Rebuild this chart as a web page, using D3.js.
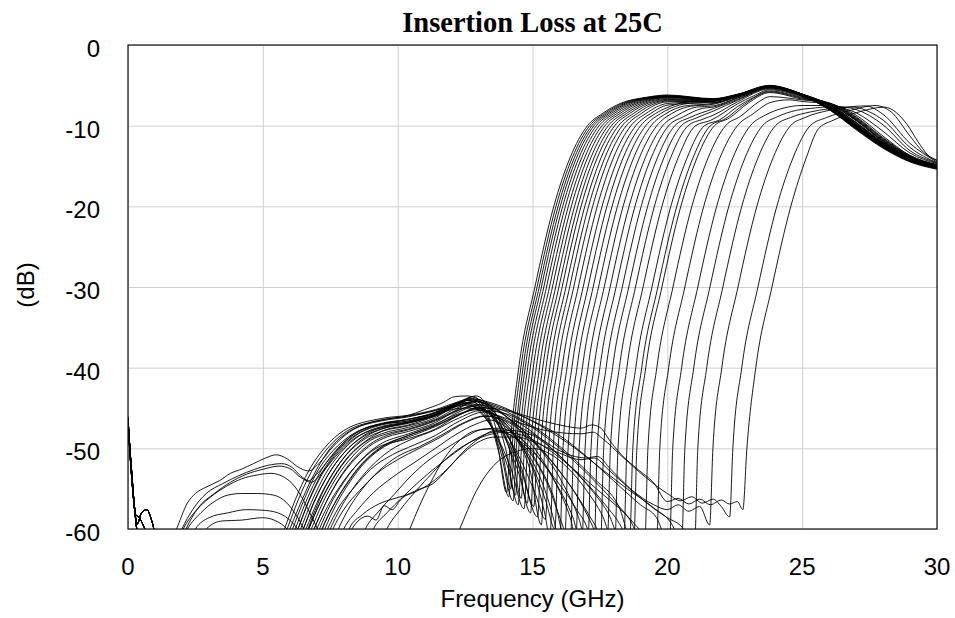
<!DOCTYPE html>
<html lang="en">
<head>
  <meta charset="UTF-8">
  <title>Insertion Loss at 25C</title>
  <script src="https://cdn.jsdelivr.net/npm/d3@7"></script>
  <style>
    body { margin: 0; background: #fff; }
    svg { display: block; }
    .tick-label { font-family: "Liberation Sans", Arial, sans-serif; font-size: 24px; fill: #000; }
    .title { font-family: "Liberation Serif", "Times New Roman", serif; font-size: 28.5px; font-weight: bold; fill: #000; }
  </style>
</head>
<body>
  <svg id="chart" width="955" height="618"></svg>
  <script>
    // axis ticks
    const freqTicks = [0, 5, 10, 15, 20, 25, 30];
    const dbTicks = [0, -10, -20, -30, -40, -50, -60];

    // sweeps, [GHz, dB]; values under -60 are clipped away
    const lowEdgeSweeps = [
      [[0,-46.6],[0.12,-52.5],[0.25,-57.5],[0.38,-61],[6.05,-62],[6.3,-60],[6.7,-56.5],[7.2,-53],[7.8,-50.2],[8.5,-48.2],[9.4,-47.0],[10.4,-46.4],[11.4,-45.6],[12.2,-44.4],[12.8,-43.6],[13.3,-45.5],[13.7,-49.5],[14.04,-55.5],
       [14.16,-50],[14.49,-40],[15.09,-30],[15.79,-20],[16.39,-14],[17.04,-10],[17.59,-8.5],[18.29,-7.2],[19.19,-6.5],[20,-6.2],[21.7,-6.65],[22.6,-6.1],[23.8,-5.0],[25,-6.2],[26,-7.9],[27,-10.4],[28,-12.7],[29,-14.4],[30,-15.3]],
      [[0,-46.2],[0.1,-51.5],[0.22,-56.8],[0.34,-59.4],[0.5,-58.0],[0.7,-57.6],[0.9,-59.2],[1.05,-61],[5.75,-62],[6.0,-60],[6.4,-56.8],[6.9,-53.2],[7.5,-50.0],[8.2,-47.9],[9.4,-46.6],[10.4,-46.1],[11.4,-45.3],[12.2,-44.5],[12.7,-43.8],[13.3,-45.8],[13.75,-50.5],[14.12,-56],
       [14.24,-50],[14.57,-40],[15.17,-30],[15.87,-20],[16.47,-14],[17.12,-10],[17.67,-8.5],[18.37,-7.2],[19.27,-6.5],[20,-6.25],[21.7,-6.7],[22.6,-6.15],[23.8,-5.05],[25,-6.1],[26,-7.8],[27,-10.3],[28,-12.6],[29,-14.3],[30,-15.2]],
      [[0,-47.0],[0.15,-54.2],[0.3,-59.3],[0.42,-62],[6.25,-62],[6.5,-60],[6.9,-56.6],[7.4,-53.4],[8.0,-50.6],[8.7,-48.6],[9.4,-47.6],[10.4,-46.9],[11.4,-45.9],[12.2,-44.6],[12.9,-43.5],[13.4,-45.2],[13.85,-50.0],[14.2,-55],
       [14.32,-50],[14.65,-40],[15.25,-30],[15.95,-20],[16.55,-14],[17.2,-10],[17.75,-8.5],[18.45,-7.2],[19.35,-6.5],[20,-6.3],[21.7,-6.7],[22.6,-6.15],[23.8,-5.05],[25,-6.3],[26,-8.0],[27,-10.5],[28,-12.8],[29,-14.5],[30,-15.4]],
      [[0,-46.8],[0.14,-53],[0.28,-58.2],[0.42,-58.6],[0.6,-59.8],[0.75,-61],[5.55,-62],[5.8,-60],[6.2,-56.4],[6.7,-52.8],[7.3,-49.9],[8.0,-47.8],[9.4,-46.3],[10.4,-45.9],[11.4,-45.2],[12.2,-44.3],[12.6,-44.0],[13.2,-45.6],[13.8,-50.2],[14.28,-56.5],
       [14.4,-50],[14.73,-40],[15.33,-30],[16.03,-20],[16.63,-14],[17.28,-10],[17.83,-8.5],[18.53,-7.2],[19.43,-6.5],[20,-6.33],[21.7,-6.72],[22.6,-6.15],[23.8,-5.1],[25,-6.2],[26,-7.9],[27,-10.3],[28,-12.6],[29,-14.4],[30,-15.2]],
      [[0,-46.6],[0.12,-52.5],[0.25,-57.5],[0.38,-61],[6.45,-62],[6.7,-60],[7.1,-56.9],[7.6,-53.8],[8.2,-51.0],[8.9,-49.0],[9.4,-48.2],[10.4,-47.4],[11.4,-46.4],[12.2,-45.0],[13.0,-44.2],[13.5,-45.4],[14.0,-50.0],[14.37,-55.8],
       [14.49,-50],[14.82,-40],[15.42,-30],[16.12,-20],[16.72,-14],[17.37,-10],[17.92,-8.5],[18.62,-7.2],[19.52,-6.5],[20,-6.37],[21.7,-6.73],[22.6,-6.15],[23.8,-5.1],[25,-6.1],[26,-7.8],[27,-10.2],[28,-12.5],[29,-14.3],[30,-15.1]],
      [[0,-46.2],[0.1,-51.5],[0.22,-56.8],[0.34,-59.4],[0.5,-58.0],[0.7,-57.6],[0.9,-59.2],[1.05,-61],[5.85,-62],[6.1,-60],[6.5,-56.6],[7.0,-53.0],[7.6,-50.3],[8.3,-48.3],[9.4,-47.0],[10.4,-46.6],[11.4,-45.8],[12.0,-45.0],[12.5,-44.5],[13.1,-45.7],[13.7,-48.8],[14.1,-52.5],[14.47,-57],
       [14.59,-50],[14.92,-40],[15.52,-30],[16.22,-20],[16.82,-14],[17.47,-10],[18.02,-8.5],[18.72,-7.2],[19.62,-6.5],[20,-6.4],[21.7,-6.75],[22.6,-6.15],[23.8,-5.1],[25,-6.3],[26,-8.0],[27,-10.4],[28,-12.7],[29,-14.4],[30,-15.3]],
      [[0,-47.0],[0.15,-54.2],[0.3,-59.3],[0.42,-62],[6.65,-62],[6.9,-60],[7.3,-57.0],[7.8,-54.0],[8.4,-51.4],[9.1,-49.4],[9.6,-48.6],[10.4,-47.9],[11.4,-46.8],[12.2,-45.2],[13.0,-44.0],[13.5,-45.0],[14.0,-48.6],[14.3,-52.0],[14.58,-56.2],
       [14.7,-50],[15.03,-40],[15.63,-30],[16.33,-20],[16.93,-14],[17.58,-10],[18.13,-8.5],[18.83,-7.2],[19.73,-6.5],[20,-6.45],[21.7,-6.76],[22.6,-6.16],[23.8,-5.12],[25,-6.2],[26,-7.8],[27,-10.2],[28,-12.5],[29,-14.2],[30,-15.2]],
      [[0,-46.8],[0.14,-53],[0.28,-58.2],[0.42,-58.6],[0.6,-59.8],[0.75,-61],[5.65,-62],[5.9,-60],[6.3,-56.5],[6.8,-52.9],[7.4,-50.0],[8.1,-47.9],[9.4,-46.5],[10.4,-46.0],[11.4,-45.3],[11.9,-44.8],[12.4,-44.3],[13.0,-45.2],[13.6,-48.0],[14.2,-52.5],[14.69,-57.5],
       [14.81,-50],[15.14,-40],[15.74,-30],[16.44,-20],[17.04,-14],[17.69,-10],[18.24,-8.5],[18.94,-7.2],[20,-6.5],[21.7,-6.78],[22.6,-6.17],[23.8,-5.13],[25,-6.1],[26,-7.7],[27,-10.1],[28,-12.5],[29,-14.3],[30,-15.2]],
      [[0,-46.6],[0.12,-52.5],[0.25,-57.5],[0.38,-61],[6.95,-62],[7.2,-60],[7.6,-57.2],[8.1,-54.4],[8.7,-51.8],[9.4,-49.8],[10.4,-48.4],[11.4,-47.1],[12.2,-45.6],[13.1,-44.6],[13.6,-45.6],[14.1,-48.4],[14.5,-52.4],[14.81,-56.8],
       [14.93,-50],[15.26,-40],[15.86,-30],[16.56,-20],[17.16,-14],[17.81,-10],[18.36,-8.5],[19.06,-7.2],[20,-6.55],[21.7,-6.8],[22.6,-6.2],[23.8,-5.15],[25,-6.3],[26,-7.9],[27,-10.3],[28,-12.6],[29,-14.4],[30,-15.3]],
      [[0,-46.2],[0.1,-51.5],[0.22,-56.8],[0.34,-59.4],[0.5,-58.0],[0.7,-57.6],[0.9,-59.2],[1.05,-61],[6.15,-62],[6.4,-60],[6.8,-56.7],[7.3,-53.3],[7.9,-50.5],[8.6,-48.4],[9.4,-47.3],[10.4,-46.7],[11.4,-45.7],[12.2,-44.4],[12.7,-43.8],[13.3,-45.0],[13.9,-48.2],[14.5,-53.2],[14.93,-58],
       [15.05,-50],[15.38,-40],[15.98,-30],[16.68,-20],[17.28,-14],[17.93,-10],[18.48,-8.5],[19.18,-7.2],[20,-6.65],[21.7,-6.85],[22.6,-6.2],[23.8,-5.16],[25,-6.2],[26,-7.8],[27,-10.2],[28,-12.6],[29,-14.3],[30,-15.2]],
      [[0,-47.0],[0.15,-54.2],[0.3,-59.3],[0.42,-62],[6.75,-62],[7.0,-60],[7.4,-57.2],[7.9,-54.5],[8.5,-52.0],[9.2,-50.0],[10.4,-48.8],[11.4,-47.6],[12.2,-46.0],[12.9,-45.0],[13.5,-45.9],[14.1,-48.6],[14.6,-52.5],[15.05,-57.2],
       [15.17,-50],[15.5,-40],[16.1,-30],[16.8,-20],[17.4,-14],[18.05,-10],[18.6,-8.5],[19.3,-7.2],[20,-6.75],[21.7,-6.85],[22.6,-6.2],[23.8,-5.15],[25,-6.1],[26,-7.7],[27,-10.1],[28,-12.4],[29,-14.2],[30,-15.1]],
      [[0,-46.8],[0.14,-53],[0.28,-58.2],[0.42,-58.6],[0.6,-59.8],[0.75,-61],[6.35,-62],[6.6,-60],[7.0,-56.8],[7.5,-53.6],[8.1,-50.8],[8.8,-48.8],[9.4,-47.9],[10.4,-47.2],[11.4,-46.2],[12.0,-45.0],[12.6,-44.4],[13.2,-45.2],[13.9,-48.0],[14.6,-53.0],[15.19,-58.5],
       [15.31,-50],[15.64,-40],[16.24,-30],[16.94,-20],[17.54,-14],[18.19,-10],[18.74,-8.5],[19.44,-7.2],[20,-6.85],[21.7,-6.9],[22.6,-6.2],[23.8,-5.2],[25,-6.3],[26,-7.9],[27,-10.3],[28,-12.6],[29,-14.3],[30,-15.2]]
    ];

    const midEdgeSweeps = [
      [[0,-46.6],[0.12,-52.5],[0.25,-57.5],[0.38,-61],[7.15,-62],[7.4,-60],[7.8,-57.4],[8.4,-54.8],[9.0,-52.6],[9.8,-50.8],[10.6,-49.6],[11.4,-48.4],[12.3,-46.6],[13.2,-45.5],[13.8,-46.3],[14.4,-48.8],[14.9,-52.6],[15.33,-59.5],
       [15.45,-50],[15.78,-40],[16.38,-30],[17.08,-20],[17.68,-14],[18.33,-10],[18.88,-8.5],[19.58,-7.2],[20,-6.95],[21.7,-6.95],[22.6,-6.22],[23.8,-5.2],[25,-6.2],[26,-7.7],[27,-10.1],[28,-12.4],[29,-14.2],[30,-15.1]],
      [[0,-46.2],[0.1,-51.5],[0.22,-56.8],[0.34,-59.4],[0.5,-58.0],[0.7,-57.6],[0.9,-59.2],[1.05,-61],[5.95,-62],[6.2,-60],[6.6,-56.6],[7.1,-53.1],[7.7,-50.3],[8.4,-48.2],[9.4,-46.9],[10.4,-46.4],[11.4,-45.5],[12.0,-44.6],[12.5,-44.0],[13.1,-44.8],[13.8,-47.2],[14.5,-51.0],[15.1,-55.6],[15.48,-58.8],
       [15.6,-50],[15.93,-40],[16.53,-30],[17.23,-20],[17.83,-14],[18.48,-10],[19.03,-8.5],[19.73,-7.2],[20,-7.05],[21.7,-6.95],[22.6,-6.25],[23.8,-5.2],[25,-6.1],[26,-7.6],[27,-10.0],[28,-12.4],[29,-14.2],[30,-15.1]],
      [[0,-47.0],[0.15,-54.2],[0.3,-59.3],[0.42,-62],[7.35,-62],[7.6,-60],[8.0,-57.6],[8.6,-55.2],[9.2,-53.2],[10.0,-51.4],[10.8,-50.0],[11.6,-48.6],[12.4,-47.0],[13.3,-46.0],[14.0,-47.0],[14.6,-49.6],[15.1,-53.5],[15.45,-58],[15.65,-61],
       [15.77,-50],[16.1,-40],[16.7,-30],[17.4,-20],[18.0,-14],[18.65,-10],[19.2,-8.5],[20,-7.25],[21.7,-6.95],[22.6,-6.25],[23.8,-5.25],[25,-6.2],[26,-7.7],[27,-10.0],[28,-12.3],[29,-14.1],[30,-15.1]],
      [[0,-46.8],[0.14,-53],[0.28,-58.2],[0.42,-58.6],[0.6,-59.8],[0.75,-61],[6.55,-62],[6.8,-60],[7.2,-56.9],[7.7,-53.8],[8.3,-51.1],[9.0,-49.0],[9.6,-48.2],[10.4,-47.6],[11.4,-46.5],[12.2,-45.3],[12.8,-44.8],[13.5,-45.8],[14.3,-48.4],[15.0,-52.2],[15.5,-56.6],[15.83,-60],
       [15.95,-50],[16.28,-40],[16.88,-30],[17.58,-20],[18.18,-14],[18.83,-10],[19.38,-8.5],[20,-7.45],[21.7,-7.0],[22.6,-6.3],[23.8,-5.25],[25,-6.1],[26,-7.5],[27,-9.9],[28,-12.3],[29,-14.1],[30,-15.0]],
      [[0,-46.6],[0.12,-52.5],[0.25,-57.5],[0.38,-61],[7.75,-62],[8.0,-60],[8.5,-57.7],[9.1,-55.5],[9.8,-53.6],[10.6,-51.8],[11.4,-50.0],[12.2,-48.2],[12.9,-47.0],[13.4,-46.5],[14.1,-47.6],[14.8,-50.5],[15.4,-54.6],[15.8,-59],[16.01,-62],
       [16.13,-50],[16.46,-40],[17.06,-30],[17.76,-20],[18.36,-14],[19.01,-10],[19.56,-8.5],[20,-7.75],[21,-7.0],[21.7,-7.1],[22.6,-6.3],[23.8,-5.15],[25,-6.2],[26,-7.6],[27,-10.0],[28,-12.4],[29,-14.2],[30,-15.1]],
      [[0,-46.2],[0.1,-51.5],[0.22,-56.8],[0.34,-59.4],[0.5,-58.0],[0.7,-57.6],[0.9,-59.2],[1.05,-61],[6.85,-62],[7.1,-60],[7.5,-57.0],[8.0,-54.2],[8.6,-51.6],[9.3,-49.6],[10.4,-48.2],[11.4,-47.0],[12.2,-45.8],[13.0,-45.2],[13.7,-46.0],[14.5,-48.4],[15.2,-51.9],[15.8,-56.2],[16.2,-61],
       [16.32,-50],[16.65,-40],[17.25,-30],[17.95,-20],[18.55,-14],[19.2,-10],[19.75,-8.5],[20.45,-7.45],[21,-7.2],[21.7,-7.15],[22.6,-6.35],[23.8,-5.15],[25,-6.1],[26,-7.5],[27,-9.8],[28,-12.2],[29,-14.1],[30,-15.0]],
      [[0,-47.0],[0.15,-54.2],[0.3,-59.3],[0.42,-62],[8.05,-62],[8.3,-60],[8.9,-58.4],[9.2,-58.9],[9.5,-57.1],[9.8,-57.6],[10.1,-56.4],[10.7,-55.2],[11.3,-54.4],[11.9,-52.4],[12.5,-50.2],[13.1,-48.6],[13.6,-47.8],[14.3,-48.6],[15.0,-51.0],[15.6,-54.8],[16.1,-59.4],[16.4,-62],
       [16.52,-50],[16.85,-40],[17.45,-30],[18.15,-20],[18.75,-14],[19.4,-10],[19.95,-8.5],[20.65,-7.55],[21.7,-7.25],[22.6,-6.4],[23.8,-5.2],[25,-6.2],[26,-7.6],[27,-9.9],[28,-12.3],[29,-14.2],[30,-15.1]],
      [[0,-46.8],[0.14,-53],[0.28,-58.2],[0.42,-58.6],[0.6,-59.8],[0.75,-61],[6.25,-62],[6.5,-60],[6.9,-56.7],[7.4,-53.4],[8.0,-50.6],[8.7,-48.5],[9.4,-47.4],[10.4,-46.8],[11.4,-45.8],[12.2,-44.6],[12.9,-44.2],[13.6,-45.0],[14.4,-47.3],[15.2,-50.6],[15.9,-54.6],[16.4,-58.6],[16.61,-61],
       [16.73,-50],[17.06,-40],[17.66,-30],[18.36,-20],[18.96,-14],[19.61,-10],[20.16,-8.5],[20.86,-7.6],[21.7,-7.35],[22.6,-6.45],[23.8,-5.2],[25,-6.1],[26,-7.4],[27,-9.7],[28,-12.2],[29,-14.0],[30,-15.0]],
      [[0,-46.6],[0.12,-52.5],[0.25,-57.5],[0.38,-61],[8.55,-62],[8.8,-60],[9.3,-57.8],[9.9,-55.6],[10.5,-53.4],[11.1,-51.6],[11.8,-50.0],[12.5,-48.6],[13.2,-47.6],[13.8,-47.5],[14.5,-48.6],[15.2,-51.0],[15.9,-54.5],[16.5,-58.6],[16.83,-62],
       [16.95,-50],[17.28,-40],[17.88,-30],[18.58,-20],[19.18,-14],[19.83,-10],[20.38,-8.7],[21.08,-7.7],[21.7,-7.55],[22.6,-6.55],[23.8,-5.25],[25,-6.2],[26,-7.5],[27,-9.8],[28,-12.2],[29,-14.1],[30,-15.0]],
      [[0,-46.2],[0.1,-51.5],[0.22,-56.8],[0.34,-59.4],[0.5,-58.0],[0.7,-57.6],[0.9,-59.2],[1.05,-61],[7.05,-62],[7.3,-60],[7.7,-57.1],[8.2,-54.3],[8.8,-51.7],[9.5,-49.8],[10.4,-48.6],[11.4,-47.3],[12.2,-46.0],[13.1,-44.9],[13.8,-45.6],[14.6,-47.6],[15.4,-50.6],[16.1,-54.2],[16.7,-58.5],[17.05,-62],
       [17.17,-50],[17.5,-40],[18.1,-30],[18.8,-20],[19.4,-14],[20.05,-10],[20.6,-8.9],[21.3,-7.85],[21.7,-7.7],[22.6,-6.6],[23.8,-5.3],[25,-6.1],[26,-7.4],[27,-9.6],[28,-12.1],[29,-14.0],[30,-15.0]],
      [[0,-47.0],[0.15,-54.2],[0.3,-59.3],[0.42,-62],[10.2,-62],[10.45,-60],[10.8,-57.2],[11.2,-54.4],[11.7,-51.4],[12.3,-49.0],[12.9,-47.8],[13.5,-47.6],[14.2,-48.4],[15.0,-50.4],[15.8,-53.6],[16.6,-57.4],[17.1,-60.6],[17.28,-63],
       [17.4,-50],[17.73,-40],[18.33,-30],[19.03,-20],[19.63,-14],[20.28,-10],[20.83,-9.0],[21.7,-7.9],[22.6,-6.75],[23.8,-5.3],[25,-6.2],[26,-7.4],[27,-9.6],[28,-12.1],[29,-14.0],[30,-15.0]],
      [[0,-46.8],[0.14,-53],[0.28,-58.2],[0.42,-58.6],[0.6,-59.8],[0.75,-61],[6.45,-62],[6.7,-60],[7.1,-56.9],[7.6,-53.7],[8.2,-50.9],[8.9,-48.9],[9.4,-47.9],[10.4,-47.1],[11.4,-46.0],[12.2,-44.8],[12.8,-44.2],[13.5,-44.9],[14.3,-46.8],[15.2,-49.6],[16.0,-52.8],[16.8,-56.8],[17.3,-60.2],[17.52,-62],
       [17.64,-50],[17.97,-40],[18.57,-30],[19.27,-20],[19.87,-14],[20.52,-10],[21.07,-9.05],[21.7,-8.2],[22.6,-6.85],[23.8,-5.35],[25,-6.3],[26,-7.3],[27,-9.4],[28,-12.0],[29,-14.0],[30,-15.0]],
      [[0,-46.6],[0.12,-52.5],[0.25,-57.5],[0.38,-61],[7.55,-62],[7.8,-60],[8.2,-57.4],[8.7,-55.0],[9.3,-52.8],[10.0,-51.0],[10.8,-49.8],[11.6,-48.4],[12.4,-46.9],[13.2,-46.0],[14.0,-46.6],[14.9,-48.8],[15.8,-52.0],[16.6,-55.6],[17.3,-59.4],[17.77,-62],
       [17.89,-50],[18.22,-40],[18.82,-30],[19.52,-20],[20.12,-14],[20.77,-10],[21.32,-9.2],[21.7,-8.7],[22.6,-7.05],[23.8,-5.45],[25,-6.3],[26,-7.3],[27,-9.3],[28,-11.9],[29,-13.9],[30,-15.0]]
    ];

    const highEdgeSweeps = [
      [[0,-46.2],[0.1,-51.5],[0.22,-56.8],[0.34,-59.4],[0.5,-58.0],[0.7,-57.6],[0.9,-59.2],[1.05,-61],[12.05,-62],[12.3,-60],[12.6,-57.6],[12.9,-55.4],[13.3,-53.2],[13.8,-51.4],[14.4,-50.4],[15.0,-50.0],[15.6,-50.6],[16.3,-52.4],[17.0,-55.2],[17.6,-58.4],[18.05,-62],
       [18.17,-50],[18.5,-40],[19.1,-30],[19.8,-20],[20.4,-14],[21.05,-10],[21.6,-9.35],[22.6,-7.3],[23.2,-6.3],[23.8,-5.55],[25,-6.4],[26,-7.3],[27,-9.3],[28,-11.9],[29,-13.9],[30,-15.0]],
      [[0,-47.0],[0.15,-54.2],[0.3,-59.3],[0.42,-62],[6.65,-62],[6.9,-60],[7.3,-57.0],[7.8,-53.9],[8.4,-51.2],[9.1,-49.2],[9.6,-48.4],[10.4,-47.7],[11.4,-46.6],[12.2,-45.4],[12.9,-44.6],[13.6,-45.1],[14.4,-46.6],[15.3,-48.8],[16.2,-51.6],[17.1,-54.8],[17.8,-58.0],[18.38,-62],
       [18.5,-50],[18.83,-40],[19.43,-30],[20.13,-20],[20.73,-14],[21.38,-10],[21.93,-9.3],[22.6,-7.65],[23.2,-6.5],[23.8,-5.7],[25,-6.5],[26,-7.2],[27,-9.2],[28,-11.8],[29,-13.9],[30,-15.0]],
      [[0,-46.8],[0.14,-53],[0.28,-58.2],[0.42,-58.6],[0.6,-59.8],[0.75,-61],[8.85,-62],[9.1,-60],[9.6,-58.0],[10.2,-56.0],[10.8,-54.1],[11.4,-52.4],[12.1,-50.6],[12.8,-49.0],[13.5,-48.0],[14.2,-47.8],[15.0,-48.4],[15.9,-50.6],[16.8,-53.6],[17.7,-57.0],[18.3,-59.8],[18.6,-62],
       [18.72,-50],[19.05,-40],[19.65,-30],[20.35,-20],[20.95,-14],[21.6,-10],[22.15,-9.15],[22.85,-7.35],[23.8,-5.8],[25,-6.6],[26,-7.2],[27,-9.1],[28,-11.7],[29,-13.8],[30,-14.9]],
      [[0,-46.6],[0.12,-52.5],[0.25,-57.5],[0.38,-61],[6.05,-62],[6.3,-60],[6.7,-56.6],[7.2,-53.2],[7.8,-50.4],[8.5,-48.3],[9.4,-47.1],[10.4,-46.6],[11.4,-45.6],[12.2,-44.5],[12.7,-44.0],[13.4,-44.6],[14.3,-45.9],[15.3,-47.9],[16.3,-50.6],[17.3,-53.8],[18.2,-57.2],[18.75,-62],
       [18.87,-50],[19.2,-40],[19.8,-30],[20.5,-20],[21.1,-14],[21.75,-10],[22.3,-9.05],[23.0,-7.2],[23.8,-5.9],[25,-6.7],[26,-7.2],[27,-9.0],[28,-11.6],[29,-13.8],[30,-14.9]],
      [[0,-46.2],[0.1,-51.5],[0.22,-56.8],[0.34,-59.4],[0.5,-58.0],[0.7,-57.6],[0.9,-59.2],[1.05,-61],[7.25,-62],[7.5,-60],[7.9,-57.3],[8.4,-54.7],[9.0,-52.3],[9.7,-50.3],[10.5,-48.9],[11.4,-47.7],[12.3,-46.2],[13.1,-45.3],[13.9,-45.6],[14.8,-47.0],[15.8,-49.4],[16.8,-52.4],[17.8,-55.8],[18.6,-58.8],[19.16,-62],
       [19.28,-50],[19.61,-40],[20.21,-30],[20.91,-20],[21.51,-14],[22.16,-10],[22.71,-8.85],[23.41,-7.0],[23.8,-6.4],[25,-6.8],[26,-7.2],[27,-8.9],[28,-11.5],[29,-13.7],[30,-14.9]],
      [[0,-47.0],[0.15,-54.2],[0.3,-59.3],[0.42,-62],[2.6,-62],[2.9,-60],[3.5,-59.0],[4.2,-58.9],[5.0,-58.6],[5.6,-59.2],[6.0,-60.4],[6.3,-62],[9.35,-62],[9.6,-60],[10.1,-57.6],[10.7,-55.2],[11.3,-53.0],[11.9,-51.0],[12.6,-49.4],[13.3,-48.4],[14.0,-48.0],[14.8,-48.6],[15.7,-50.4],[16.6,-52.8],[17.5,-55.4],[18.4,-58.0],[19.1,-60.5],[19.6,-62],
       [19.72,-50],[20.05,-40],[20.65,-30],[21.35,-20],[21.95,-14],[22.6,-10],[23.15,-8.6],[23.85,-7.1],[24.5,-6.8],[25,-7.0],[26,-7.3],[27,-8.7],[28,-11.3],[29,-13.7],[30,-14.8]],
      [[0,-46.8],[0.14,-53],[0.28,-58.2],[0.42,-58.6],[0.6,-59.8],[0.75,-61],[2.2,-62],[2.5,-60],[3.0,-58.6],[3.7,-58.0],[4.4,-57.6],[5.1,-57.7],[5.7,-58.2],[6.2,-59.6],[6.5,-61],[6.8,-62],[7.0,-62],[7.2,-60],[7.6,-57.2],[8.1,-54.5],[8.7,-51.9],[9.4,-49.9],[10.4,-48.4],[11.4,-47.2],[12.3,-45.8],[13.1,-45.0],[14.0,-45.3],[15.0,-46.6],[16.0,-48.4],[17.0,-51.0],[18.0,-54.0],[19.0,-57.0],[19.6,-58.6],[20.08,-62],
       [20.2,-50],[20.53,-40],[21.13,-30],[21.83,-20],[22.43,-14],[23.08,-10],[23.63,-8.7],[24.33,-7.8],[25,-7.5],[26,-7.5],[26.5,-7.8],[27,-8.4],[28,-10.7],[29,-13.4],[30,-14.7]],
      [[0,-46.6],[0.12,-52.5],[0.25,-57.5],[0.38,-61],[1.9,-62],[2.2,-60],[2.7,-58.0],[3.2,-56.6],[3.7,-55.8],[4.2,-55.6],[4.8,-55.6],[5.4,-55.8],[5.9,-56.8],[6.3,-58.6],[6.6,-60.2],[6.85,-58.4],[7.2,-55.6],[7.7,-52.6],[8.3,-50.0],[9.0,-48.2],[9.6,-47.4],[10.4,-46.8],[11.4,-45.9],[12.2,-44.6],[12.8,-43.9],[13.5,-44.4],[14.5,-45.8],[15.5,-47.6],[16.5,-49.8],[17.5,-52.4],[18.5,-55.0],[19.5,-57.4],[20.2,-59.6],[20.53,-62],
       [20.65,-50],[20.98,-40],[21.58,-30],[22.28,-20],[22.88,-14],[23.53,-10],[24.08,-8.9],[24.78,-8.1],[25.5,-7.8],[26.2,-7.6],[26.6,-7.7],[27,-8.0],[28,-9.9],[29,-13.1],[30,-14.6]],
      [[0,-46.2],[0.1,-51.5],[0.22,-56.8],[0.34,-59.4],[0.5,-58.0],[0.7,-57.6],[0.9,-59.2],[1.05,-61],[1.8,-62],[2.05,-60],[2.5,-57.8],[3.0,-56.2],[3.6,-54.8],[4.2,-53.8],[4.8,-53.3],[5.3,-53.1],[5.8,-53.6],[6.2,-54.8],[6.5,-56.4],[6.8,-58.4],[7.1,-60.5],[7.3,-62],[8.0,-62],[8.2,-60],[8.7,-58.2],[9.3,-56.9],[9.9,-56.2],[10.5,-55.6],[11.1,-54.6],[11.7,-53.0],[12.3,-51.0],[12.9,-49.4],[13.6,-48.6],[14.4,-48.6],[15.2,-49.4],[16.0,-50.6],[16.8,-51.4],[17.3,-51.2],[17.8,-52.6],[18.6,-55.0],[19.4,-57.2],[20.0,-58.6],[20.5,-59.6],[21.01,-62],
       [21.13,-50],[21.46,-40],[22.06,-30],[22.76,-20],[23.36,-14],[24.01,-10],[24.56,-9.0],[25.3,-8.3],[26,-7.9],[26.9,-7.7],[27.5,-8.3],[28,-9.3],[29,-12.7],[30,-14.6]],
      [[0,-47.0],[0.15,-54.2],[0.3,-59.3],[0.42,-62],[1.75,-62],[2.0,-60],[2.4,-57.6],[2.9,-55.6],[3.5,-54.4],[4.1,-53.4],[4.7,-52.6],[5.2,-52.1],[5.7,-51.9],[6.1,-52.4],[6.4,-53.4],[6.7,-54.0],[7.0,-53.2],[7.5,-51.2],[8.1,-49.0],[8.8,-47.5],[9.5,-46.9],[10.4,-46.4],[11.4,-45.6],[12.0,-44.9],[12.5,-44.7],[13.2,-45.2],[14.2,-46.8],[15.2,-48.6],[16.2,-50.6],[17.0,-51.2],[17.4,-51.0],[17.9,-52.6],[18.7,-55.2],[19.5,-57.0],[20.0,-57.6],[20.4,-57.0],[20.8,-57.8],[21.2,-57.2],[21.57,-59.5],
       [21.69,-50],[22.02,-40],[22.62,-30],[23.32,-20],[23.92,-14],[24.57,-10],[25.1,-9.0],[26,-8.1],[27,-7.6],[27.35,-7.55],[28,-8.6],[29,-12.2],[30,-14.5]],
      [[0,-46.8],[0.14,-53],[0.28,-58.2],[0.42,-58.6],[0.6,-59.8],[0.75,-61],[1.9,-62],[2.15,-60],[2.6,-57.4],[3.2,-55.6],[3.8,-54.2],[4.4,-53.2],[5.0,-52.6],[5.6,-52.2],[6.0,-52.5],[6.4,-53.6],[6.8,-54.2],[7.2,-53.0],[7.7,-51.0],[8.3,-49.0],[9.0,-47.8],[9.6,-47.3],[10.4,-46.8],[11.4,-46.0],[12.0,-45.2],[12.6,-45.0],[13.3,-45.5],[14.3,-46.6],[15.5,-47.8],[16.8,-48.2],[17.25,-48.0],[17.6,-48.8],[18.35,-51.1],[19.2,-53.6],[20.0,-55.6],[20.5,-56.5],[20.9,-56.0],[21.3,-56.8],[21.7,-56.3],[22.0,-57.2],[22.31,-58.5],
       [22.43,-50],[22.76,-40],[23.36,-30],[24.06,-20],[24.66,-14],[25.3,-10],[25.9,-9.0],[26.8,-8.1],[27.7,-7.5],[28.3,-8.3],[29,-11.3],[29.5,-13.3],[30,-14.3]],
      [[0,-46.6],[0.12,-52.5],[0.25,-57.5],[0.38,-61],[1.55,-62],[1.8,-60],[2.2,-56.8],[2.5,-55.6],[2.9,-54.8],[3.4,-54.0],[3.8,-53.1],[4.2,-52.6],[4.65,-51.9],[5.1,-51.2],[5.5,-50.8],[5.9,-51.3],[6.3,-52.3],[6.7,-52.8],[7.1,-51.8],[7.6,-49.8],[8.2,-48.0],[8.8,-47.0],[9.5,-46.4],[10.3,-46.0],[11.0,-45.2],[11.7,-44.3],[12.1,-43.6],[12.6,-43.5],[13.2,-44.2],[14.3,-45.5],[15.5,-46.7],[16.3,-47.3],[16.8,-47.5],[17.2,-47.1],[17.5,-47.4],[17.9,-49.2],[18.3,-50.8],[18.9,-52.6],[19.5,-54.3],[20.0,-56.6],[20.4,-56.2],[20.8,-56.9],[21.2,-56.3],[21.6,-57.0],[22.0,-56.4],[22.3,-56.9],[22.6,-56.6],[22.8,-57.6],
       [22.95,-50],[23.28,-40],[23.88,-30],[24.58,-20],[25.15,-14],[25.6,-10.4],[26.1,-9.4],[27.0,-8.4],[28.05,-7.7],[28.5,-8.4],[28.9,-9.9],[29.3,-12.0],[29.65,-13.6],[30,-14.3]]
    ];

    const sweeps = lowEdgeSweeps.concat(midEdgeSweeps, highEdgeSweeps);

    const svg = d3.select("#chart");
    const plotL = 128, plotR = 937, plotT = 45, plotB = 529;

    const x = d3.scaleLinear().domain([0, 30]).range([plotL, plotR]);
    const y = d3.scaleLinear().domain([-60, 0]).range([plotB, plotT]);

    svg.append("rect").attr("width", 955).attr("height", 618).attr("fill", "#fff");

    svg.append("defs").append("clipPath").attr("id", "plotClip")
      .append("rect")
      .attr("x", plotL).attr("y", plotT)
      .attr("width", plotR - plotL).attr("height", plotB - plotT);

    // grid
    svg.append("g")
      .attr("transform", `translate(0,${plotB})`)
      .call(d3.axisBottom(x).tickValues(freqTicks).tickSize(-(plotB - plotT)).tickFormat(""))
      .call(g => g.select(".domain").remove())
      .call(g => g.selectAll("line").attr("stroke", "#d0d0d0").attr("stroke-width", 1));

    svg.append("g")
      .attr("transform", `translate(${plotL},0)`)
      .call(d3.axisLeft(y).tickValues(dbTicks).tickSize(-(plotR - plotL)).tickFormat(""))
      .call(g => g.select(".domain").remove())
      .call(g => g.selectAll("line").attr("stroke", "#d0d0d0").attr("stroke-width", 1));

    const line = d3.line()
      .x(d => x(d[0]))
      .y(d => y(d[1]))
      .curve(d3.curveMonotoneX);

    svg.append("g")
      .attr("clip-path", "url(#plotClip)")
      .selectAll("path")
      .data(sweeps)
      .enter()
      .append("path")
      .attr("d", line)
      .attr("fill", "none")
      .attr("stroke", "#000")
      .attr("stroke-width", 0.9);

    // frame
    svg.append("rect")
      .attr("x", plotL).attr("y", plotT)
      .attr("width", plotR - plotL).attr("height", plotB - plotT)
      .attr("fill", "none")
      .attr("stroke", "#111")
      .attr("stroke-width", 1.2);

    // tick labels
    svg.append("g").selectAll("text")
      .data(freqTicks)
      .enter()
      .append("text")
      .attr("class", "tick-label")
      .attr("x", d => x(d))
      .attr("y", 575)
      .attr("text-anchor", "middle")
      .text(d => d);

    svg.append("g").selectAll("text")
      .data(dbTicks)
      .enter()
      .append("text")
      .attr("class", "tick-label")
      .attr("x", 100)
      .attr("y", d => y(d) + 12)
      .attr("text-anchor", "end")
      .text(d => d);

    svg.append("text")
      .attr("class", "title")
      .attr("x", (plotL + plotR) / 2)
      .attr("y", 32)
      .attr("text-anchor", "middle")
      .text("Insertion Loss at 25C");

    svg.append("text")
      .attr("class", "tick-label")
      .attr("x", (plotL + plotR) / 2)
      .attr("y", 607)
      .attr("text-anchor", "middle")
      .text("Frequency (GHz)");

    svg.append("text")
      .attr("class", "tick-label")
      .attr("transform", `translate(34,${(plotT + plotB) / 2 - 2}) rotate(-90)`)
      .attr("text-anchor", "middle")
      .text("(dB)");
  </script>
</body>
</html>
